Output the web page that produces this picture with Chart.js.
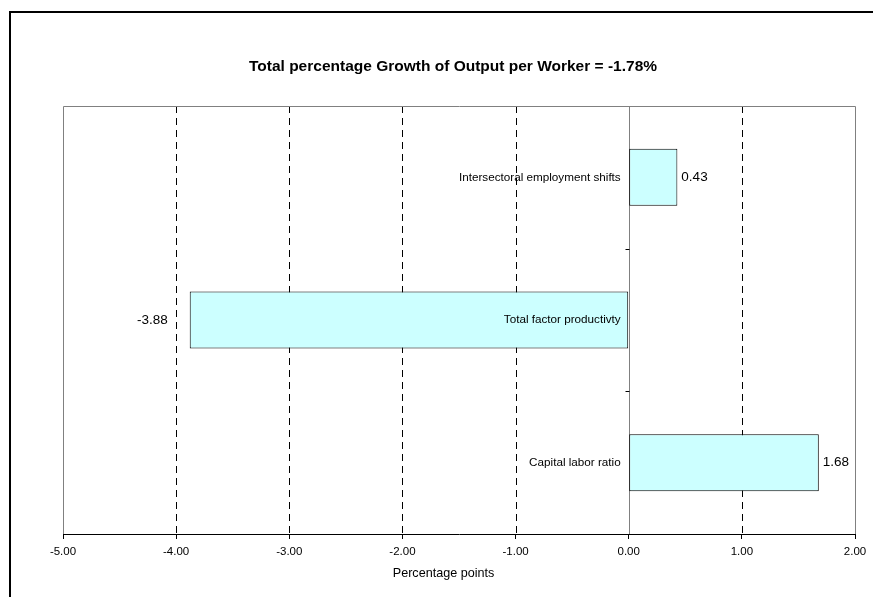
<!DOCTYPE html>
<html>
<head>
<meta charset="utf-8">
<title>Growth of Output per Worker</title>
<script src="https://cdn.jsdelivr.net/npm/chart.js@4"></script>
<style>
  body { margin: 0; background: #fff; }
  #wrap { width: 873px; height: 597px; }
</style>
</head>
<body>
<div id="wrap"><canvas id="growthChart" width="873" height="597"></canvas></div>
<script>
// Contributions to growth of output per worker (percentage points)
const categories = [
  "Intersectoral employment shifts",
  "Total factor productivty",
  "Capital labor ratio",
];
const contributions = [0.43, -3.88, 1.68];
const xMin = -5;
const xMax = 2;
const totalGrowth = -1.78;

const FONT = "'Liberation Sans', Arial, sans-serif";
const titleText = "Total percentage Growth of Output per Worker = " + totalGrowth.toFixed(2) + "%";
const axisTitle = "Percentage points";

// White page, heavy black frame, chart title and axis title
const frame = {
  id: "frame",
  beforeDraw(chart) {
    const ctx = chart.ctx;
    ctx.save();
    ctx.fillStyle = "#fff";
    ctx.fillRect(0, 0, chart.width, chart.height);
    ctx.strokeStyle = "#000";
    ctx.lineWidth = 2;
    ctx.strokeRect(10, 12, chart.width + 50, chart.height + 50);
    ctx.fillStyle = "#000";
    ctx.textAlign = "center";
    ctx.textBaseline = "middle";
    ctx.font = "bold 15.5px " + FONT;
    ctx.fillText(titleText, 453, 67);
    ctx.font = "12.6px " + FONT;
    ctx.fillText(axisTitle, 443.5, 574);
    ctx.restore();
  },
};

// Dashed gridlines, plot border and the zero line
const plotGrid = {
  id: "plotGrid",
  beforeDatasetsDraw(chart) {
    const { ctx, chartArea: a, scales } = chart;
    const x = scales.x;
    const y = scales.y;
    ctx.save();
    ctx.lineWidth = 1;
    ctx.strokeStyle = "#000";
    ctx.setLineDash([7, 5]);
    for (let v = xMin + 1; v < xMax; v++) {
      if (v === 0) continue;
      const px = Math.round(x.getPixelForValue(v)) + 0.5;
      ctx.beginPath();
      ctx.moveTo(px, a.top);
      ctx.lineTo(px, a.bottom);
      ctx.stroke();
    }
    ctx.setLineDash([]);
    ctx.strokeStyle = "#808080";
    const l = Math.round(a.left) + 0.5;
    const r = Math.round(a.right) + 0.5;
    const t = Math.round(a.top) + 0.5;
    ctx.beginPath();
    ctx.moveTo(l, a.bottom);
    ctx.lineTo(l, t);
    ctx.lineTo(r, t);
    ctx.lineTo(r, a.bottom);
    ctx.stroke();
    const zx = Math.round(x.getPixelForValue(0)) + 0.5;
    ctx.beginPath();
    ctx.moveTo(zx, a.top);
    ctx.lineTo(zx, a.bottom);
    ctx.stroke();
    // category boundary ticks on the zero line
    ctx.strokeStyle = "#000";
    for (let i = 1; i < categories.length; i++) {
      const py = Math.round((y.getPixelForValue(i - 1) + y.getPixelForValue(i)) / 2) + 0.5;
      ctx.beginPath();
      ctx.moveTo(zx - 4, py);
      ctx.lineTo(zx, py);
      ctx.stroke();
    }
    ctx.restore();
  },
};

// Category names next to the zero line and values at the bar ends
const barLabels = {
  id: "barLabels",
  afterDatasetsDraw(chart) {
    const { ctx, scales } = chart;
    const zx = scales.x.getPixelForValue(0);
    const bars = chart.getDatasetMeta(0).data;
    ctx.save();
    ctx.fillStyle = "#000";
    ctx.textBaseline = "middle";
    bars.forEach((bar, i) => {
      const v = contributions[i];
      ctx.font = "11.7px " + FONT;
      ctx.textAlign = "right";
      ctx.fillText(categories[i], zx - 8, bar.y);
      ctx.font = "13.5px " + FONT;
      if (v >= 0) {
        ctx.textAlign = "left";
        ctx.fillText(v.toFixed(2), bar.x + 4, bar.y);
      } else {
        ctx.textAlign = "right";
        ctx.fillText(v.toFixed(2), bar.x - 22, bar.y);
      }
    });
    ctx.restore();
  },
};

const ctx = document.getElementById("growthChart").getContext("2d");
const growthChart = new Chart(ctx, {
  type: "bar",
  data: {
    labels: categories,
    datasets: [
      {
        data: contributions,
        backgroundColor: "#ccffff",
        borderColor: "#000",
        borderWidth: 1,
        borderSkipped: false,
        barPercentage: 0.4,
        categoryPercentage: 1,
      },
    ],
  },
  options: {
    indexAxis: "y",
    responsive: false,
    animation: false,
    layout: { padding: { left: 63, right: 18, top: 106, bottom: 0 } },
    plugins: {
      legend: { display: false },
      tooltip: { enabled: false },
      title: { display: false },
    },
    scales: {
      x: {
        type: "linear",
        min: xMin,
        max: xMax,
        ticks: {
          stepSize: 1,
          color: "#000",
          padding: 6,
          font: { family: FONT, size: 11.5 },
          callback: (v) => Number(v).toFixed(2),
        },
        grid: {
          drawOnChartArea: false,
          drawTicks: true,
          tickLength: 5,
          color: "#000",
        },
        border: { display: true, color: "#000", width: 1 },
        afterFit: (scale) => {
          scale.height = 63;
        },
      },
      y: {
        type: "category",
        display: false,
      },
    },
  },
  plugins: [frame, plotGrid, barLabels],
});
</script>
</body>
</html>
